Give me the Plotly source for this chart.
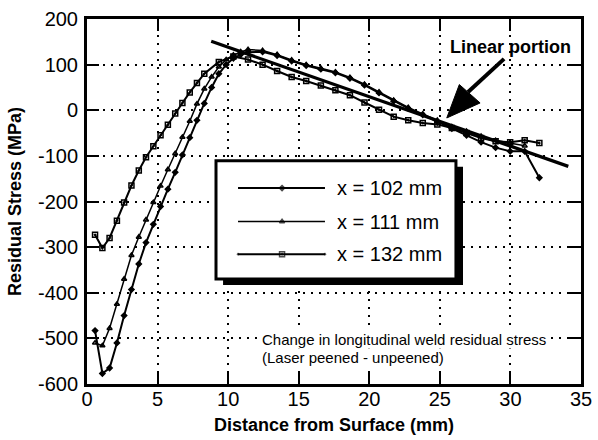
import plotly.graph_objects as go

# Distance from surface (mm) and change in residual stress (MPa) for each section
depth_102 = [0.57, 1.09, 1.60, 2.12, 2.63, 3.15, 3.67, 4.18, 4.70, 5.21,
             5.73, 6.25, 6.76, 7.28, 7.79, 8.31, 8.83, 9.34, 9.86, 10.37,
             10.89, 11.41, 12.44, 13.47, 14.50, 15.53, 16.57, 17.60, 18.63, 19.66,
             20.69, 21.73, 22.76, 23.79, 24.82, 25.85, 26.89, 27.92, 28.95, 29.98,
             31.01, 32.05]
stress_102 = [-483, -577, -565, -510, -450, -393, -337, -290, -250, -211,
              -173, -136, -98, -60, -22, 15, 50, 80, 100, 114,
              122, 127, 128, 120, 108, 98, 90, 82, 70, 55,
              38, 20, 4, -10, -25, -40, -55, -70, -82, -90,
              -90, -148]

depth_111 = [0.57, 1.09, 1.60, 2.12, 2.63, 3.15, 3.67, 4.18, 4.70, 5.21,
             5.73, 6.25, 6.76, 7.28, 7.79, 8.31, 8.83, 9.34, 9.86, 10.37,
             10.89, 11.41, 12.44, 13.47, 14.50, 15.53, 16.57, 17.60, 18.63, 19.66,
             20.69, 21.73, 22.76, 23.79, 24.82, 25.85, 26.89, 27.92, 28.95, 29.98,
             31.01]
stress_111 = [-510, -516, -478, -425, -370, -318, -278, -240, -202, -166,
              -130, -95, -59, -24, 14, 47, 73, 95, 111, 121,
              128, 133, 131, 122, 110, 100, 92, 84, 72, 57,
              40, 22, 6, -8, -22, -36, -46, -57, -66, -72,
              -78]

depth_132 = [0.57, 1.09, 1.60, 2.12, 2.63, 3.15, 3.67, 4.18, 4.70, 5.21,
             5.73, 6.25, 6.76, 7.28, 7.79, 8.31, 9.34, 10.37, 11.41, 12.44,
             13.47, 14.50, 15.53, 16.57, 17.60, 18.63, 19.66, 20.69, 21.73, 22.76,
             23.79, 24.82, 25.85, 26.89, 27.92, 28.95, 29.98, 31.01, 32.05]
stress_132 = [-273, -302, -280, -242, -202, -165, -132, -103, -79, -55,
              -32, -7, 16, 39, 60, 80, 106, 118, 111, 100,
              86, 73, 64, 54, 44, 33, 17, 1, -14, -22,
              -28, -31, -39, -50, -61, -68, -70, -66, -72]

# Straight-line fit over the linear portion
linear_depth = [8.8, 34.1]
linear_stress = [151, -123]

series_names = ["x = 102 mm", "x = 111 mm", "x = 132 mm"]

x_ticks = [0, 5, 10, 15, 20, 25, 30, 35]
y_ticks = [-600, -500, -400, -300, -200, -100, 0, 100, 200]
y_ticktext = [str(v) for v in y_ticks]

FONT = "Liberation Sans, Arial, Helvetica, sans-serif"

symbols = ["diamond", "triangle-up-open", "square-open-dot"]
msizes = [4, 4.5, 5]
lwidths = [2, 1.5, 2]

fig = go.Figure()

series = [(depth_102, stress_102), (depth_111, stress_111), (depth_132, stress_132)]
for (xs, ys), name, sym, ms, lw in zip(series, series_names, symbols, msizes, lwidths):
    fig.add_trace(go.Scatter(
        x=xs, y=ys, mode="lines+markers", name=name, showlegend=False,
        line=dict(color="black", width=lw),
        marker=dict(symbol=sym, size=ms, color="black", line=dict(color="black", width=1.5)),
    ))

fig.add_trace(go.Scatter(
    x=linear_depth, y=linear_stress, mode="lines", showlegend=False,
    line=dict(color="black", width=3.2),
))

# Boxed key with a drop shadow
box_x0, box_x1 = 9.14, 26.14
box_y0, box_y1 = -369.6, -110.6
dx, dy = 0.5, 13.5
fig.add_shape(type="rect", xref="x", yref="y", layer="between",
              x0=box_x0 + dx, x1=box_x1 + dx, y0=box_y0 - dy, y1=box_y1 - dy,
              fillcolor="black", line=dict(color="black", width=0))
fig.add_shape(type="rect", xref="x", yref="y", layer="between",
              x0=box_x0, x1=box_x1, y0=box_y0, y1=box_y1,
              fillcolor="white", line=dict(color="black", width=3))

key_rows = [-170.5, -243.9, -315.4]
key_x = [10.7, 13.82, 16.86]
for row, name, sym, ms, lw in zip(key_rows, series_names, symbols, msizes, lwidths):
    fig.add_trace(go.Scatter(
        x=key_x, y=[row] * 3, mode="lines+markers", showlegend=False,
        line=dict(color="black", width=lw),
        marker=dict(symbol=sym, size=[0, ms, 0], color="black",
                    line=dict(color="black", width=1.5)),
        hoverinfo="skip",
    ))
    fig.add_annotation(x=17.6, y=row, xref="x", yref="y", text=name,
                       showarrow=False, xanchor="left", yanchor="middle",
                       font=dict(family=FONT, size=20, color="black"))

# "Linear portion" call-out with a filled arrow
fig.add_annotation(x=30.0, y=139, xref="x", yref="y", text="<b>Linear portion</b>",
                   showarrow=False, xanchor="center", yanchor="middle",
                   font=dict(family=FONT, size=18, color="black"))
fig.add_shape(type="line", xref="x", yref="y", x0=29.55, y0=112.6, x1=27.0, y1=40,
              line=dict(color="black", width=4))
fig.add_shape(type="path", xref="x", yref="y",
              path="M 25.49,-16.9 L 26.38,56.3 L 27.85,16.0 Z",
              fillcolor="black", line=dict(color="black", width=1))

# Note on what the curves show
fig.add_annotation(x=12.3, y=-503.5, xref="x", yref="y",
                   text="Change in longitudinal weld residual stress",
                   showarrow=False, xanchor="left", yanchor="middle", bgcolor="white",
                   borderpad=0, font=dict(family=FONT, size=15, color="black"))
fig.add_annotation(x=12.3, y=-543, xref="x", yref="y",
                   text="(Laser peened - unpeened)",
                   showarrow=False, xanchor="left", yanchor="middle", bgcolor="white",
                   borderpad=0, font=dict(family=FONT, size=15, color="black"))

axis_common = dict(
    showline=True, linecolor="black", linewidth=3, mirror="ticks",
    ticks="inside", ticklen=12, tickwidth=2, tickcolor="black",
    showgrid=True, gridcolor="black", gridwidth=1.8, griddash="2px,6px",
    zeroline=False, automargin=False,
    tickfont=dict(family=FONT, size=20, color="black"),
)

fig.update_xaxes(range=[0, 35], tickvals=x_ticks, ticklabelstandoff=-5,
                 title=dict(text="<b>Distance from Surface (mm)</b>", standoff=10,
                            font=dict(family=FONT, size=18, color="black")),
                 **axis_common)
fig.update_yaxes(range=[-600, 200], tickvals=y_ticks, ticktext=y_ticktext,
                 ticklabelstandoff=2,
                 title=dict(text="<b>Residual Stress (MPa)</b>", standoff=12,
                            font=dict(family=FONT, size=18, color="black")),
                 **axis_common)

fig.update_layout(
    width=598, height=440,
    margin=dict(l=87, r=17, t=19, b=56),
    paper_bgcolor="white", plot_bgcolor="white",
    font=dict(family=FONT, color="black"),
    showlegend=False,
)

fig.write_html("out.html")
